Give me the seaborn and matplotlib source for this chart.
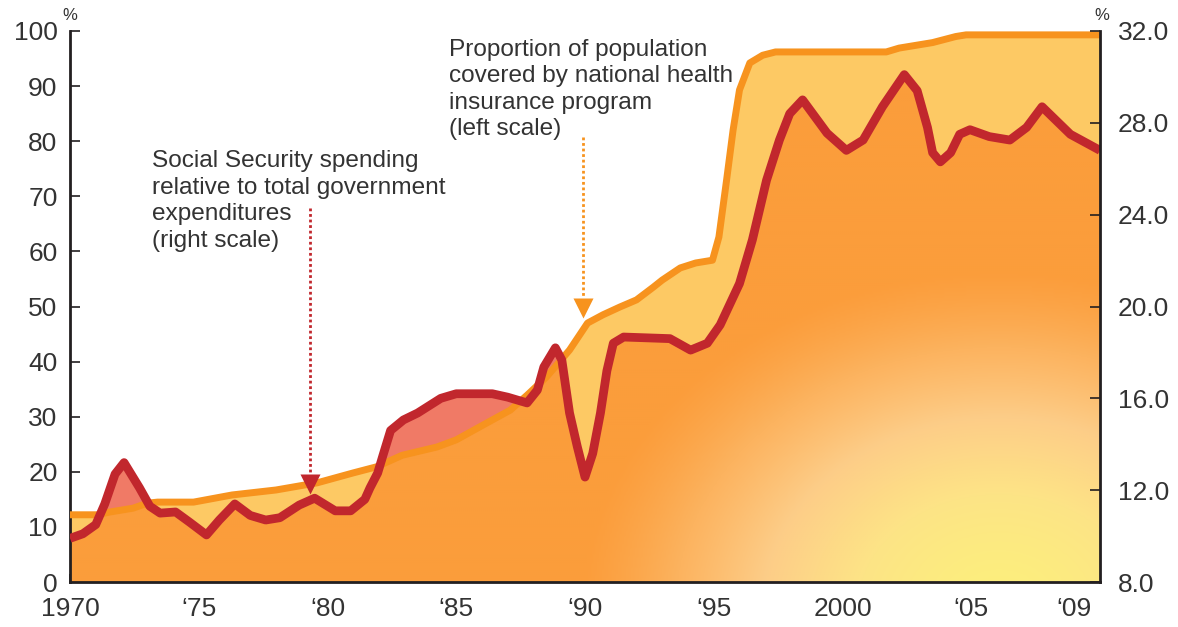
import numpy as np
import seaborn as sns
import matplotlib.pyplot as plt
from matplotlib.colors import LinearSegmentedColormap

sns.set_theme(style="ticks")
plt.rcParams['font.family'] = ['Liberation Sans', 'DejaVu Sans']

# national health insurance coverage, % of population (left scale)
cover_years = [1970.0, 1971.05, 1971.55, 1972.45, 1973.0, 1973.4, 1974.8, 1976.3,
               1978.0, 1979.6, 1981.0, 1981.9, 1982.9, 1984.25, 1985.0, 1986.2,
               1987.1, 1987.75, 1988.5, 1989.4, 1990.1, 1990.7, 1991.35, 1992.0,
               1992.65, 1993.0, 1993.7, 1994.3, 1994.95, 1995.2, 1995.5, 1995.75,
               1996.0, 1996.4, 1996.9, 1997.4, 2001.7, 2002.2, 2003.5, 2004.4,
               2004.8, 2010.0]
cover_pct = [12.2, 12.2, 12.7, 13.4, 14.3, 14.5, 14.5, 15.8,
             16.7, 18.0, 19.8, 20.9, 23.0, 24.5, 25.8, 28.9,
             31.2, 33.9, 37.2, 42.1, 47.0, 48.5, 49.9, 51.2,
             53.5, 54.8, 57.0, 57.9, 58.4, 62.6, 73.0, 82.0,
             89.3, 94.2, 95.6, 96.2, 96.2, 96.9, 97.9, 99.0,
             99.3, 99.3]

# social security spending, % of total government expenditures (right scale)
ss_years = [1970.0, 1970.5, 1971.0, 1971.35, 1971.75, 1972.1, 1972.7, 1973.1,
            1973.5, 1974.1, 1974.65, 1975.3, 1975.8, 1976.4, 1977.0, 1977.6,
            1978.15, 1978.9, 1979.5, 1980.3, 1980.9, 1981.45, 1981.65, 1981.95,
            1982.15, 1982.45, 1982.95, 1983.5, 1984.4, 1985.0, 1986.4, 1987.0,
            1987.75, 1988.15, 1988.4, 1988.85, 1989.1, 1989.4, 1989.7, 1990.0,
            1990.3, 1990.6, 1990.85, 1991.1, 1991.5, 1993.3, 1994.1, 1994.75,
            1995.25, 1996.0, 1996.5, 1997.05, 1997.55, 1997.95, 1998.45, 1999.4,
            2000.15, 2000.8, 2001.55, 2002.4, 2002.9, 2003.3, 2003.5, 2003.8,
            2004.2, 2004.55, 2004.95, 2005.7, 2006.5, 2007.15, 2007.75, 2008.85,
            2010.0]
ss_pct = [9.9, 10.1, 10.5, 11.4, 12.7, 13.2, 12.1, 11.3,
          11.0, 11.05, 10.6, 10.05, 10.7, 11.4, 10.9, 10.7,
          10.8, 11.35, 11.65, 11.1, 11.1, 11.6, 12.1, 12.75,
          13.5, 14.6, 15.06, 15.36, 16.0, 16.2, 16.2, 16.05,
          15.8, 16.36, 17.36, 18.2, 17.67, 15.36, 13.9, 12.57,
          13.6, 15.36, 17.2, 18.4, 18.67, 18.6, 18.1, 18.4,
          19.2, 21.0, 22.9, 25.5, 27.25, 28.4, 29.0, 27.55,
          26.8, 27.25, 28.7, 30.1, 29.4, 27.8, 26.7, 26.3,
          26.7, 27.5, 27.7, 27.4, 27.25, 27.8, 28.7, 27.5,
          26.8]

year_ticks = list(range(1970, 2011))
year_labels = {1970: '1970', 1975: '‘75', 1980: '‘80', 1985: '‘85', 1990: '‘90',
               1995: '‘95', 2000: '2000', 2005: '‘05', 2009: '‘09'}
left_ticks = list(range(0, 101, 10))
right_ticks = [8, 12, 16, 20, 24, 28, 32]
right_lo, right_hi = 8, 32

orange = '#F7931E'
red = '#C1272D'
light = '#FDC964'
salmon = '#F07A66'
dark = '#FB9D3B'
ink = '#333333'
spine = '#231F20'

fig = plt.figure(figsize=(11.78, 6.27), dpi=100)
ax = fig.add_axes([70 / 1178, 45 / 627, 1030 / 1178, 551 / 627])

# common grid for the fills (ss series expressed in left-scale units)
xf = np.linspace(1970, 2010, 4001)
o = np.interp(xf, cover_years, cover_pct)
r = (np.interp(xf, ss_years, ss_pct) - right_lo) / (right_hi - right_lo) * 100
low = np.minimum(o, r)

base = ax.fill_between(xf, 0, low, color=dark, lw=0, zorder=1)
ax.fill_between(xf, r, o, where=o >= r, interpolate=True, color=light, lw=0, zorder=1)
ax.fill_between(xf, o, r, where=r > o, interpolate=True, color=salmon, lw=0, zorder=1)

# yellow glow at the bottom right of the main area
nx, ny = 515, 276
px = 70 + np.linspace(0, 1030, nx)
py = 582 - np.linspace(0, 551, ny)
PX, PY = np.meshgrid(px, py)
d = np.sqrt(((PX - 1000) / 420) ** 2 + ((PY - 610) / 340) ** 2)
d = np.clip(d, 0, 1)
d = d * d * (3 - 2 * d) * 0.5 + d * 0.5
glow = LinearSegmentedColormap.from_list(
    'glow', [(0, '#FCF07C'), (0.3, '#FDE486'), (0.58, '#FDCD88'),
             (0.82, '#FCB35F'), (1, dark)])
im = ax.imshow(d, cmap=glow, vmin=0, vmax=1, origin='lower',
               extent=[1970, 2010, 0, 100], aspect='auto', zorder=1.5,
               interpolation='bilinear')
im.set_clip_path(base.get_paths()[0], ax.transData)

sns.lineplot(x=cover_years, y=cover_pct, ax=ax, color=orange, linewidth=5,
             zorder=3, solid_joinstyle='round', solid_capstyle='butt')

# annotations
ax.text(1973.2, 78.4, 'Social Security spending\nrelative to total government\n'
        'expenditures\n(right scale)', fontsize=17.6, color=ink, va='top',
        ha='left', linespacing=1.27, zorder=5)
ax.plot([1979.32, 1979.32], [67.9, 19.5], color=red, lw=2, ls=(0, (1, 1)), zorder=4)
ax.plot([1979.32], [17.7], marker='v', ms=14, color=red, mec='none', zorder=4)

ax.text(1984.7, 98.6, 'Proportion of population\ncovered by national health\n'
        'insurance program\n(left scale)', fontsize=17.6, color=ink, va='top',
        ha='left', linespacing=1.27, zorder=5)
ax.plot([1989.92, 1989.92], [80.8, 51.5], color=orange, lw=2, ls=(0, (1, 1)), zorder=4)
ax.plot([1989.92], [49.7], marker='v', ms=14, color=orange, mec='none', zorder=4)

ax.set_xlim(1970, 2010)
ax.set_ylim(0, 100)
ax.set_xticks(year_ticks)
ax.set_xticklabels([year_labels.get(y, '') for y in year_ticks])
ax.set_yticks(left_ticks)
ax.set_yticklabels([str(v) for v in left_ticks])
ax.tick_params(axis='x', direction='in', length=6, width=1.2, color=spine,
               labelsize=19, labelcolor=ink, pad=11)
ax.tick_params(axis='y', direction='in', length=7, width=1.2, color=spine,
               labelsize=19, labelcolor=ink, pad=9)
for side in ['top', 'right']:
    ax.spines[side].set_visible(False)
for side in ['left', 'bottom']:
    ax.spines[side].set_color(spine)
    ax.spines[side].set_linewidth(2)
ax.set_xlabel('')
ax.set_ylabel('')

ax2 = ax.twinx()
sns.lineplot(x=ss_years, y=ss_pct, ax=ax2, color=red, linewidth=6.3,
             solid_joinstyle='round', solid_capstyle='butt')
ax2.set_ylim(right_lo, right_hi)
ax2.set_xlim(1970, 2010)
ax2.set_yticks(right_ticks)
ax2.set_yticklabels([f'{v:.1f}' for v in right_ticks])
ax2.tick_params(axis='y', direction='in', length=7, width=1.2, color=spine,
                labelsize=19, labelcolor=ink, pad=13)
for side in ['top', 'left', 'bottom']:
    ax2.spines[side].set_visible(False)
ax2.spines['right'].set_color(spine)
ax2.spines['right'].set_linewidth(2)
ax2.set_ylabel('')

fig.text(70 / 1178, 1 - 16 / 627, '%', fontsize=12, color=ink, ha='center', va='center')
fig.text(1102 / 1178, 1 - 16 / 627, '%', fontsize=12, color=ink, ha='center', va='center')

fig.savefig('out.png', dpi=100)
